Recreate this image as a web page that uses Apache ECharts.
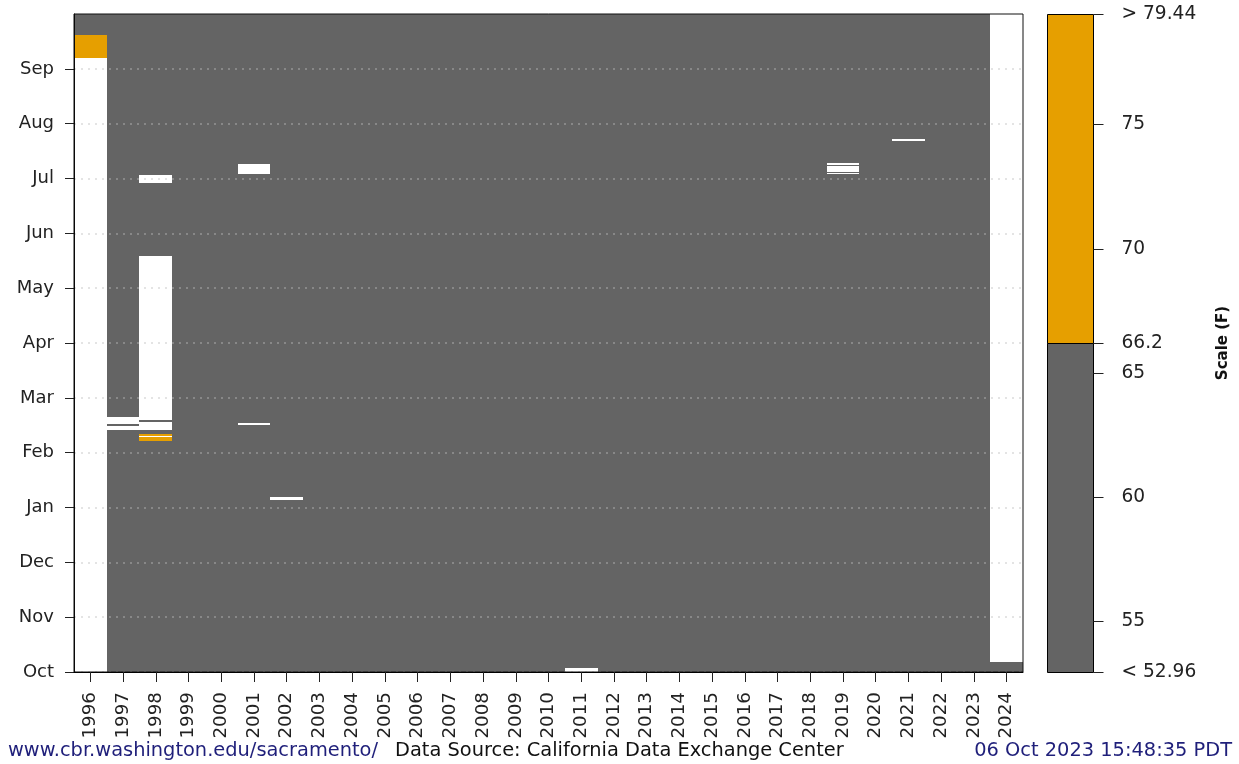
<!DOCTYPE html>
<html><head><meta charset="utf-8">
<script src="https://cdn.jsdelivr.net/npm/echarts@6/dist/echarts.min.js"></script>
<style>html,body{margin:0;padding:0;background:#fff}#c{width:1239px;height:764px}</style>
</head><body><div id="c"></div>
<script>
const years = ['1996','1997','1998','1999','2000','2001','2002','2003','2004','2005','2006','2007','2008','2009','2010',
  '2011','2012','2013','2014','2015','2016','2017','2018','2019','2020','2021','2022','2023','2024'];
const monthLabels = ['Oct','Nov','Dec','Jan','Feb','Mar','Apr','May','Jun','Jul','Aug','Sep'];
const monthTicks = [0,1,2,3,4,5,6,7,8,9,10,11];
const threshold = 66.2;
const scaleMin = 52.96, scaleMax = 79.44;
const scaleTicks = [52.96, 55, 60, 65, 66.2, 70, 75, 79.44];
const scaleTickLabels = ['< 52.96', '55', '60', '65', '66.2', '70', '75', '> 79.44'];

// segments: [yearIndex, startMonth, endMonth], months counted from 1 Oct of the previous calendar year
const belowSegs = [
  [0,11.618,12],[1,0,12],[2,0,12],[3,0,12],[4,0,12],[5,0,12],[6,0,12],[7,0,12],[8,0,12],[9,0,12],
  [10,0,12],[11,0,12],[12,0,12],[13,0,12],[14,0,12],[15,0,12],[16,0,12],[17,0,12],[18,0,12],[19,0,12],
  [20,0,12],[21,0,12],[22,0,12],[23,0,12],[24,0,12],[25,0,12],[26,0,12],[27,0,12],[28,0,0.177]
];
const aboveSegs = [
  [0,11.193,11.618],
  [2,4.213,4.278],[2,4.295,4.335]
];
const missingSegs = [
  [0,0,11.193],
  [1,4.414,4.487],[1,4.517,4.645],
  [2,4.414,4.565],[2,4.596,7.587],[2,4.278,4.295],[2,8.913,9.058],
  [5,9.08,9.26],[5,4.50,4.536],
  [6,3.13,3.19],
  [15,0.007,0.067],
  [23,9.083,9.105],[23,9.125,9.225],[23,9.25,9.285],
  [25,9.679,9.721],
  [28,0.177,12]
];
const scaleBands = [[scaleMin, threshold, 'below'], [threshold, scaleMax, 'above']];
const colors = { below: '#646464', above: '#E69F00', missing: '#ffffff' };

const FONT = 'DejaVu Sans';
const chart = echarts.init(document.getElementById('c'), null, { renderer: 'canvas' });

function segRender(color) {
  return function (params, api) {
    const x = api.value(0), s = api.value(1), e = api.value(2);
    const top = api.coord([x, e]);
    const bot = api.coord([x, s]);
    const w = api.size([1, 0])[0];
    const x0 = Math.round(top[0] - w / 2), x1 = Math.round(top[0] + w / 2);
    const y0 = Math.round(top[1]);
    const y1 = Math.max(y0 + 1, Math.round(bot[1]));
    return { type: 'rect', shape: { x: x0, y: y0, width: x1 - x0, height: y1 - y0 },
      style: { fill: color } };
  };
}

const option = {
  animation: false,
  backgroundColor: '#ffffff',
  textStyle: { fontFamily: FONT },
  grid: [
    { left: 74, top: 14, width: 949, height: 658, show: true, z: 11, backgroundColor: 'transparent',
      borderColor: '#111', borderWidth: 1 },
    { left: 1047, top: 14, width: 46, height: 658 }
  ],
  xAxis: [
    { type: 'category', gridIndex: 0, data: years, boundaryGap: true, position: 'bottom', z: 12,
      axisLine: { show: true, lineStyle: { color: '#000', width: 1 } },
      axisTick: { show: true, alignWithLabel: true, length: 10, lineStyle: { color: '#222' } },
      axisLabel: { rotate: 90, margin: 20, fontSize: 18.3, color: '#222', fontFamily: FONT, interval: 0 },
      splitLine: { show: false } },
    { type: 'value', gridIndex: 1, min: 0, max: 1, show: false }
  ],
  yAxis: [
    { type: 'value', gridIndex: 0, min: 0, max: 12, interval: 1, z: 10,
      axisLine: { show: true, lineStyle: { color: '#000', width: 1 } },
      axisTick: { show: true, length: 9, customValues: monthTicks, lineStyle: { color: '#222' } },
      axisLabel: { margin: 20, fontSize: 18, color: '#222', fontFamily: FONT,
        formatter: v => monthLabels[v] || '' },
      splitLine: { show: true, lineStyle: { color: 'rgba(190,190,190,0.55)', type: [2, 5], width: 1.5 } } },
    { type: 'value', gridIndex: 1, min: scaleMin, max: scaleMax, position: 'right', z: 10,
      name: 'Scale (F)', nameLocation: 'middle', nameRotate: 90, nameGap: 123,
      nameTextStyle: { fontSize: 15, fontWeight: 'bold', color: '#111', fontFamily: FONT },
      axisLine: { show: false }, axisTick: { show: false }, axisLabel: { show: false },
      splitLine: { show: false } }
  ],
  title: [
    { text: 'www.cbr.washington.edu/sacramento/', left: 8, top: 741, padding: 0,
      textStyle: { fontSize: 19.4, fontWeight: 'normal', color: '#1f1f7a', fontFamily: FONT } },
    { text: 'Data Source: California Data Exchange Center', left: 395, top: 741, padding: 0,
      textStyle: { fontSize: 19.4, fontWeight: 'normal', color: '#111', fontFamily: FONT } },
    { text: '06 Oct 2023 15:48:35 PDT', right: 7, top: 741, padding: 0,
      textStyle: { fontSize: 19.4, fontWeight: 'normal', color: '#1f1f7a', fontFamily: FONT } }
  ],
  series: [
    { type: 'custom', name: 'below', xAxisIndex: 0, yAxisIndex: 0, data: belowSegs,
      encode: { x: 0, y: [1, 2] }, renderItem: segRender(colors.below), silent: true },
    { type: 'custom', name: 'above', xAxisIndex: 0, yAxisIndex: 0, data: aboveSegs,
      encode: { x: 0, y: [1, 2] }, renderItem: segRender(colors.above), silent: true },
    { type: 'custom', name: 'missing', xAxisIndex: 0, yAxisIndex: 0, data: missingSegs,
      encode: { x: 0, y: [1, 2] }, renderItem: segRender(colors.missing), silent: true },
    { type: 'custom', name: 'scale', xAxisIndex: 1, yAxisIndex: 1, data: scaleBands, silent: true,
      encode: { y: [0, 1] },
      renderItem: function (params, api) {
        const lo = api.value(0), hi = api.value(1);
        const p1 = api.coord([0, hi]), p2 = api.coord([1, lo]);
        const x0 = Math.round(p1[0]) + 0.5, x1 = Math.round(p2[0]) + 0.5;
        const y0 = Math.round(p1[1]) + 0.5, y1 = Math.round(p2[1]) + 0.5;
        return { type: 'rect', shape: { x: x0, y: y0, width: x1 - x0, height: y1 - y0 },
          style: { fill: colors[scaleBands[params.dataIndex][2]], stroke: '#000', lineWidth: 1 } };
      } },
    { type: 'custom', name: 'scaleTicks', xAxisIndex: 1, yAxisIndex: 1, silent: true, z: 5,
      data: scaleTicks.map((v, i) => [v, i]), encode: { y: 0 },
      renderItem: function (params, api) {
        const v = api.value(0);
        const p = api.coord([1, v]);
        const x = Math.round(p[0]) + 0.5, y = Math.round(p[1]) + 0.5;
        return { type: 'group', children: [
          { type: 'line', shape: { x1: x, y1: y, x2: x + 10, y2: y }, style: { stroke: '#222', lineWidth: 1 } },
          { type: 'text', x: x + 28, y: y, style: { text: scaleTickLabels[params.dataIndex], fill: '#222',
            font: '18.6px "DejaVu Sans"', textAlign: 'left', textVerticalAlign: 'middle', verticalAlign: 'middle' } }
        ] };
      } }
  ]
};
chart.setOption(option);
</script></body></html>
